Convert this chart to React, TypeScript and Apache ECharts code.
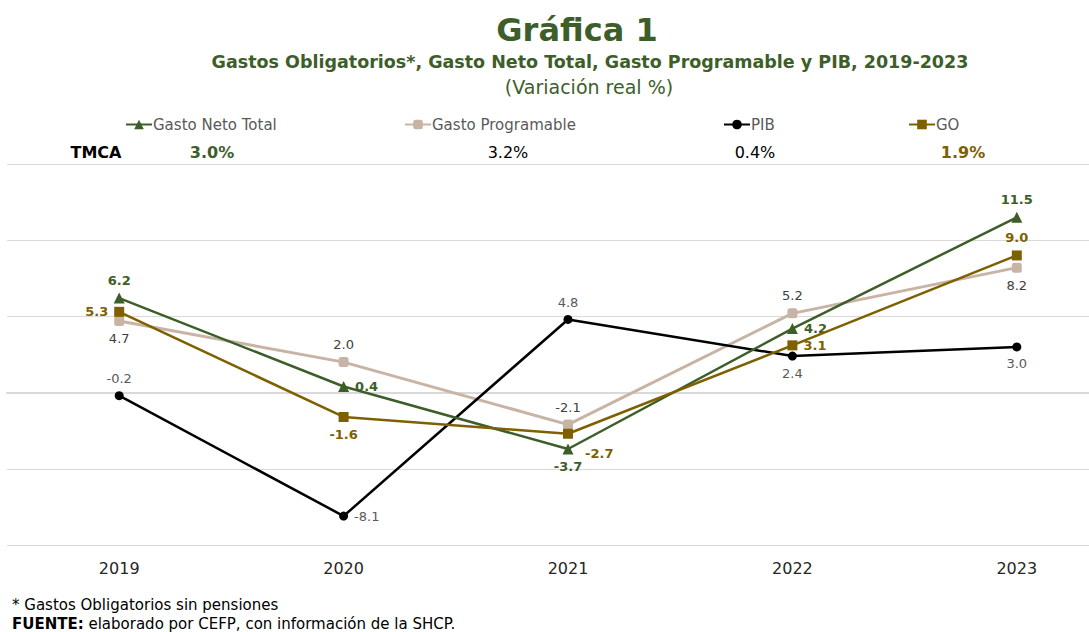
import React, { useEffect, useRef } from "react";
import * as echarts from "echarts";

const years = ["2019", "2020", "2021", "2022", "2023"];
const gastoNetoTotal = [6.2, 0.4, -3.7, 4.2, 11.5];
const gastoProgramable = [4.7, 2.0, -2.1, 5.2, 8.2];
const pib = [-0.2, -8.1, 4.8, 2.4, 3.0];
const gastosObligatorios = [5.3, -1.6, -2.7, 3.1, 9.0];
const seriesNames = ["Gasto Neto Total", "Gasto Programable", "PIB", "GO"];
const tmcaValues = ["3.0%", "3.2%", "0.4%", "1.9%"];
const yMin = -10;
const yMax = 15;
const yInterval = 5;

const gntLabelPos = ["top", "right", "bottom", "right", "top"];
const gpLabelPos = ["bottom", "top", "top", "top", "bottom"];
const pibLabelPos = ["top", "right", "top", "bottom", "bottom"];
const goLabelPos = ["left", "bottom", "right", "right", "top"];
const goLabelOffset = [[0, 0], [0, 0], [6, 20], [0, 0], [0, 0]];

const GREEN = "#3D5E29";
const TAN = "#C8B4A5";
const BLACK = "#000000";
const GOLD = "#7F6000";
const FONT = "'DejaVu Sans', sans-serif";

function buildData(values: number[], pos: string[], offs?: number[][]) {
  return values.map((v, i) => ({
    value: v,
    label: { position: pos[i], offset: offs ? offs[i] : [0, 0] },
  }));
}

export default function App() {
  const ref = useRef<HTMLDivElement>(null);
  useEffect(() => {
    if (!ref.current) return;
    const chart = echarts.init(ref.current, null, { renderer: "svg" });
    const lbl = (color: string, bold: boolean) => ({
      show: true,
      color,
      fontSize: 13,
      fontWeight: bold ? "bold" : "normal",
      fontFamily: FONT,
      distance: 6,
      formatter: (p: any) => Number(p.value).toFixed(1),
    });
    const legendLefts = [120, 399, 718, 903];
    chart.setOption({
      animation: false,
      backgroundColor: "#ffffff",
      grid: { left: 7, right: 0, top: 164, bottom: 87, containLabel: false },
      legend: seriesNames.map((n, i) => ({
        data: [n],
        left: legendLefts[i],
        top: 112,
        itemWidth: 26,
        itemHeight: 12,
        itemGap: 2,
        textStyle: { color: "#595959", fontSize: 15, fontFamily: FONT, padding: [0, 0, 0, -4] },
        selectedMode: false,
      })),
      xAxis: {
        type: "category",
        data: years,
        boundaryGap: true,
        axisLine: { show: true, lineStyle: { color: "#d9d9d9", width: 2 } },
        axisTick: { show: false },
        axisLabel: { color: "#262626", fontSize: 16, fontFamily: FONT, margin: 15 },
      },
      yAxis: {
        type: "value",
        min: yMin,
        max: yMax,
        interval: yInterval,
        axisLabel: { show: false },
        axisLine: { show: false },
        axisTick: { show: false },
        splitLine: { lineStyle: { color: "#d9d9d9", width: 1 } },
      },
      series: [
        {
          name: seriesNames[0],
          type: "line",
          data: buildData(gastoNetoTotal, gntLabelPos),
          symbol: "triangle",
          symbolSize: 11,
          lineStyle: { color: GREEN, width: 2.5 },
          itemStyle: { color: GREEN },
          label: lbl(GREEN, true),
          z: 4,
        },
        {
          name: seriesNames[1],
          type: "line",
          data: buildData(gastoProgramable, gpLabelPos),
          symbol: "roundRect",
          symbolSize: 10,
          lineStyle: { color: TAN, width: 3 },
          itemStyle: { color: TAN },
          label: lbl("#404040", false),
          z: 2,
        },
        {
          name: seriesNames[2],
          type: "line",
          data: buildData(pib, pibLabelPos),
          symbol: "circle",
          symbolSize: 9,
          lineStyle: { color: BLACK, width: 2.5 },
          itemStyle: { color: BLACK },
          label: lbl("#595959", false),
          z: 3,
        },
        {
          name: seriesNames[3],
          type: "line",
          data: buildData(gastosObligatorios, goLabelPos, goLabelOffset),
          symbol: "rect",
          symbolSize: 10,
          lineStyle: { color: GOLD, width: 2.5 },
          itemStyle: { color: GOLD },
          label: lbl(GOLD, true),
          z: 5,
        },
      ],
      graphic: [
        {
          type: "text",
          style: { text: "Gráfica 1", x: 577, y: 30, align: "center", verticalAlign: "middle", fill: GREEN, font: `bold 32px ${FONT}` },
        },
        {
          type: "text",
          style: { text: "Gastos Obligatorios*, Gasto Neto Total, Gasto Programable y PIB, 2019-2023", x: 590, y: 62, align: "center", verticalAlign: "middle", fill: GREEN, font: `bold 17.5px ${FONT}` },
        },
        {
          type: "text",
          style: { text: "(Variación real %)", x: 589, y: 87, align: "center", verticalAlign: "middle", fill: GREEN, font: `19px ${FONT}` },
        },
        {
          type: "text",
          style: { text: "TMCA", x: 96, y: 152, align: "center", verticalAlign: "middle", fill: "#000", font: `bold 16px ${FONT}` },
        },
        {
          type: "text",
          style: { text: tmcaValues[0], x: 212, y: 152, align: "center", verticalAlign: "middle", fill: GREEN, font: `bold 16px ${FONT}` },
        },
        {
          type: "text",
          style: { text: tmcaValues[1], x: 508, y: 152, align: "center", verticalAlign: "middle", fill: "#000", font: `16px ${FONT}` },
        },
        {
          type: "text",
          style: { text: tmcaValues[2], x: 755, y: 152, align: "center", verticalAlign: "middle", fill: "#000", font: `16px ${FONT}` },
        },
        {
          type: "text",
          style: { text: tmcaValues[3], x: 963, y: 152, align: "center", verticalAlign: "middle", fill: GOLD, font: `bold 16px ${FONT}` },
        },
        {
          type: "text",
          style: { text: "* Gastos Obligatorios sin pensiones", x: 12, y: 605, align: "left", verticalAlign: "middle", fill: "#000", font: `15px ${FONT}` },
        },
        {
          type: "text",
          style: {
            text: "{b|FUENTE:} elaborado por CEFP, con información de la SHCP.",
            x: 12, y: 624, align: "left", verticalAlign: "middle", fill: "#000", font: `15px ${FONT}`,
            rich: { b: { fontWeight: "bold", fontSize: 15, fontFamily: FONT, fill: "#000" } },
          },
        },
      ],
    });
    return () => chart.dispose();
  }, []);
  return (
    <div style={{ position: "fixed", left: 0, top: 0, width: 1089, height: 632, overflow: "hidden", background: "#fff" }}>
      <div ref={ref} style={{ width: 1129, height: 632 }} />
    </div>
  );
}
